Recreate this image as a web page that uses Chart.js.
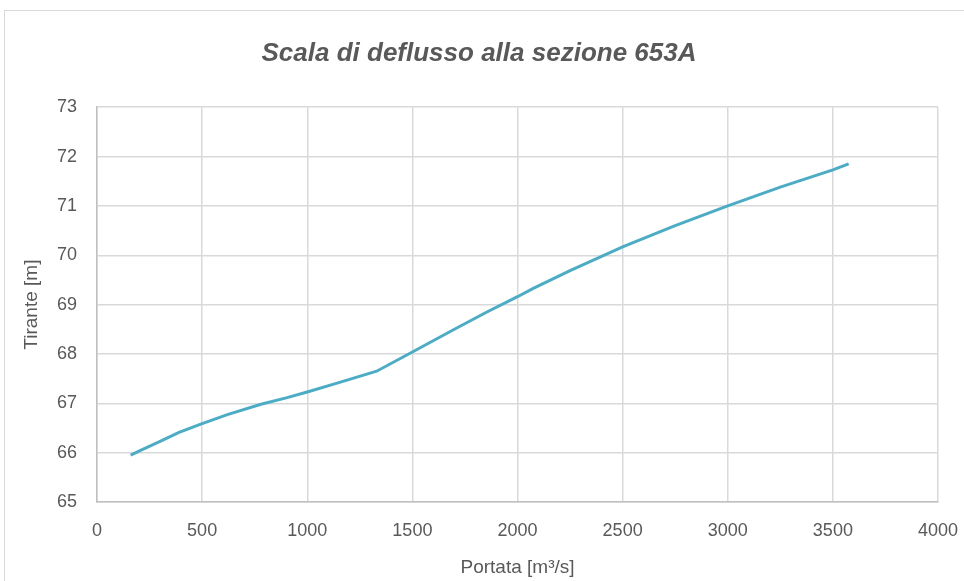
<!DOCTYPE html>
<html lang="it">
<head>
  <meta charset="UTF-8">
  <title>Scala di deflusso</title>
  <script src="https://cdn.jsdelivr.net/npm/chart.js"></script>
  <style>
    body { margin: 0; background: #fff; }
    #wrap { position: relative; width: 964px; height: 581px; }
  </style>
</head>
<body>
  <div id="wrap"><canvas id="chart"></canvas></div>
  <script>
    const portata = [160, 220, 300, 390, 500, 620, 780, 900, 1000, 1150, 1330, 1500, 1700, 1850, 2000, 2075, 2250, 2500, 2750, 3000, 3250, 3500, 3575];
    const tirante = [65.95, 66.07, 66.23, 66.41, 66.59, 66.77, 66.98, 67.11, 67.23, 67.42, 67.65, 68.04, 68.5, 68.84, 69.16, 69.33, 69.69, 70.17, 70.6, 71.0, 71.38, 71.73, 71.85];
    const xTicks = [0, 500, 1000, 1500, 2000, 2500, 3000, 3500, 4000];
    const yTicks = [65, 66, 67, 68, 69, 70, 71, 72, 73];

    const FONT = "'Liberation Sans Narrow', 'Liberation Sans', Arial, sans-serif";
    const GREY = '#595959';

    const points = portata.map((q, i) => ({ x: q, y: tirante[i] }));

    const frame = {
      id: 'frame',
      beforeDraw(chart) {
        const c = chart.ctx;
        c.save();
        c.fillStyle = '#fff';
        c.fillRect(0, 0, chart.width, chart.height);
        c.strokeStyle = '#d9d9d9';
        c.lineWidth = 1;
        c.strokeRect(4.5, 10.5, 970, 600);
        c.restore();
      }
    };

    new Chart(document.getElementById('chart'), {
      type: 'scatter',
      data: {
        datasets: [{
          data: points,
          showLine: true,
          borderColor: '#4bacc6',
          borderWidth: 3,
          pointRadius: 0,
          tension: 0
        }]
      },
      options: {
        responsive: true,
        maintainAspectRatio: false,
        animation: false,
        layout: { padding: { left: 20, right: 26, top: 0, bottom: 0 } },
        plugins: {
          legend: { display: false },
          tooltip: { enabled: false },
          title: {
            display: true,
            text: 'Scala di deflusso alla sezione 653A',
            color: GREY,
            font: { family: FONT, size: 26, style: 'italic', weight: 'bold' },
            padding: { top: 38, bottom: 38 }
          }
        },
        scales: {
          x: {
            type: 'linear',
            min: 0, max: 4000,
            afterBuildTicks: s => { s.ticks = xTicks.map(v => ({ value: v })); },
            afterFit: s => { s.height = 79; s.paddingRight = 0; s.paddingLeft = 0; },
            grid: { color: '#d9d9d9', lineWidth: 1.5, drawTicks: false },
            border: { color: '#bfbfbf', width: 1.5 },
            ticks: { color: GREY, font: { family: FONT, size: 18 }, padding: 18, maxRotation: 0, callback: v => String(v) },
            title: { display: true, text: 'Portata [m³/s]', color: GREY, font: { family: FONT, size: 19 }, padding: { top: 0, bottom: 2 } }
          },
          y: {
            min: 65, max: 73,
            afterBuildTicks: s => { s.ticks = yTicks.map(v => ({ value: v })); },
            afterFit: s => { s.width = 77; },
            grid: { color: '#d9d9d9', lineWidth: 1.5, drawTicks: false },
            border: { color: '#bfbfbf', width: 1.5 },
            ticks: { color: GREY, font: { family: FONT, size: 18 }, padding: 20, callback: v => String(v) },
            title: { display: true, text: 'Tirante [m]', color: GREY, font: { family: FONT, size: 19 }, padding: 0 }
          }
        }
      },
      plugins: [frame]
    });
  </script>
</body>
</html>
